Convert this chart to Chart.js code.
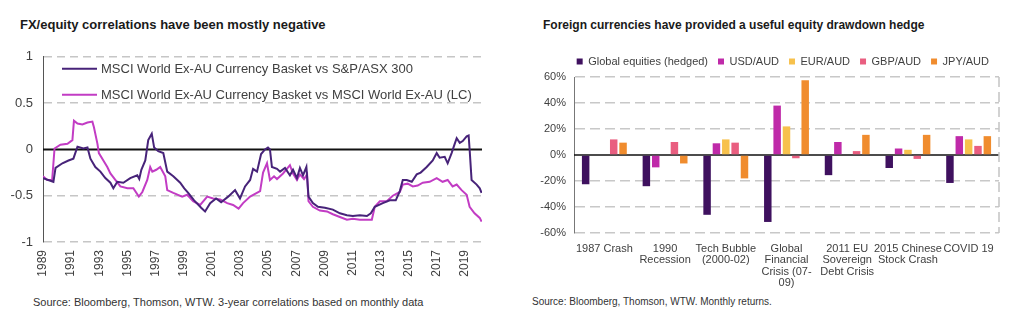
<!DOCTYPE html>
<html>
<head>
<meta charset="utf-8">
<script src="https://cdn.jsdelivr.net/npm/chart.js@4.4.1/dist/chart.umd.min.js"></script>
<style>
  body { margin: 0; background: #fff; width: 1024px; height: 331px; overflow: hidden; position: relative; font-family: 'Liberation Sans', Arial, sans-serif; }
  .title { position: absolute; font-weight: bold; color: #1a1a1a; white-space: nowrap; }
  .source { position: absolute; color: #333; white-space: nowrap; }
  .box { position: absolute; }
</style>
</head>
<body>

<div class="title" style="left:20px; top:17px; font-size:13px;">FX/equity correlations have been mostly negative</div>
<div class="title" style="left:543px; top:18px; font-size:12px;">Foreign currencies have provided a useful equity drawdown hedge</div>

<div class="box" style="left:0; top:39px; width:500px; height:251px;"><canvas id="corrChart"></canvas></div>
<div class="box" style="left:540px; top:41px; width:484px; height:249px;"><canvas id="hedgeChart"></canvas></div>

<div class="source" style="left:33px; top:296px; font-size:11px;">Source: Bloomberg, Thomson, WTW. 3-year correlations based on monthly data</div>
<div class="source" style="left:532px; top:296px; font-size:10px;">Source: Bloomberg, Thomson, WTW. Monthly returns.</div>

<script>
// left chart: 3-year correlations
var yearTicks = [1989, 1991, 1993, 1995, 1997, 1999, 2001, 2003, 2005, 2007, 2009, 2011, 2013, 2015, 2017, 2019];

var asxYears = [1989.0, 1989.74, 1989.89, 1990.38, 1990.81, 1991.16, 1991.45, 1991.87, 1992.16, 1992.37,
  1992.72, 1993.08, 1993.43, 1993.79, 1994.0, 1994.28, 1994.71, 1995.2, 1995.7, 1995.84,
  1995.99, 1996.27, 1996.48, 1996.73, 1996.9, 1997.19, 1997.55, 1997.83, 1998.26, 1998.75,
  1999.04, 1999.32, 1999.74, 2000.24, 2000.52, 2000.88, 2001.3, 2001.66, 2002.16, 2002.65,
  2003.0, 2003.36, 2003.72, 2003.93, 2004.21, 2004.5, 2004.78, 2004.99, 2005.13, 2005.27,
  2005.63, 2005.85, 2006.2, 2006.55, 2006.77, 2007.05, 2007.26, 2007.48, 2007.72, 2007.87,
  2008.18, 2008.54, 2009.03, 2009.6, 2010.1, 2010.6, 2011.02, 2011.52, 2012.02, 2012.3,
  2012.58, 2013.15, 2013.65, 2014.07, 2014.36, 2014.57, 2014.85, 2015.21, 2015.56, 2015.84,
  2016.27, 2016.7, 2016.98, 2017.19, 2017.55, 2017.76, 2018.04, 2018.26, 2018.4, 2018.62,
  2018.83, 2019.11, 2019.25, 2019.32, 2019.46, 2019.82, 2020.04, 2020.17];
var asxCorr = [-0.31, -0.35, -0.20, -0.15, -0.12, -0.10, 0.03, 0.01, 0.02, -0.10,
  -0.19, -0.24, -0.31, -0.36, -0.42, -0.35, -0.36, -0.31, -0.28, -0.32,
  -0.22, -0.12, 0.10, 0.17, 0.02, -0.02, -0.04, -0.24, -0.29, -0.36,
  -0.42, -0.47, -0.55, -0.63, -0.67, -0.58, -0.53, -0.57, -0.51, -0.44,
  -0.53, -0.40, -0.33, -0.21, -0.24, -0.05, 0.00, 0.02, 0.00, -0.19,
  -0.21, -0.24, -0.20, -0.28, -0.22, -0.31, -0.20, -0.28, -0.19, -0.51,
  -0.58, -0.62, -0.63, -0.65, -0.69, -0.71, -0.72, -0.71, -0.72, -0.69,
  -0.62, -0.58, -0.55, -0.55, -0.45, -0.33, -0.33, -0.35, -0.27, -0.25,
  -0.19, -0.12, -0.04, -0.09, -0.08, -0.15, -0.04, 0.06, 0.12, 0.07,
  0.09, 0.14, 0.15, 0.00, -0.33, -0.38, -0.42, -0.47];

var worldYears = [1989.0, 1989.3, 1989.65, 1989.82, 1990.24, 1990.74, 1991.09, 1991.2, 1991.45, 1991.8,
  1992.16, 1992.51, 1992.62, 1992.87, 1992.97, 1993.29, 1993.57, 1993.79, 1994.14, 1994.5,
  1995.0, 1995.42, 1995.81, 1996.06, 1996.41, 1996.62, 1996.77, 1997.05, 1997.33, 1997.69,
  1997.83, 1998.26, 1998.89, 1999.25, 1999.67, 2000.17, 2000.67, 2001.09, 2001.59, 2002.09,
  2002.51, 2002.9, 2003.22, 2003.72, 2004.07, 2004.43, 2004.64, 2004.92, 2005.13, 2005.42,
  2005.63, 2006.06, 2006.55, 2006.77, 2007.05, 2007.26, 2007.55, 2007.77, 2007.87, 2008.18,
  2008.68, 2009.18, 2009.6, 2010.1, 2010.6, 2011.02, 2011.52, 2012.02, 2012.37, 2012.58,
  2012.94, 2013.43, 2013.86, 2014.36, 2014.57, 2014.92, 2015.28, 2015.63, 2015.99, 2016.48,
  2016.98, 2017.4, 2017.76, 2018.11, 2018.4, 2018.75, 2019.11, 2019.32, 2019.67, 2020.04, 2020.17];
var worldCorr = [-0.29, -0.33, -0.33, 0.01, 0.05, 0.06, 0.10, 0.31, 0.28, 0.27,
  0.29, 0.30, 0.24, 0.06, -0.04, -0.12, -0.19, -0.26, -0.33, -0.40,
  -0.42, -0.42, -0.51, -0.46, -0.33, -0.19, -0.24, -0.22, -0.19, -0.29,
  -0.44, -0.47, -0.51, -0.49, -0.56, -0.60, -0.51, -0.53, -0.54, -0.58,
  -0.60, -0.64, -0.58, -0.51, -0.48, -0.45, -0.25, -0.15, -0.33, -0.29,
  -0.32, -0.26, -0.17, -0.26, -0.33, -0.27, -0.32, -0.27, -0.56, -0.62,
  -0.66, -0.67, -0.70, -0.73, -0.76, -0.75, -0.76, -0.76, -0.76, -0.62,
  -0.56, -0.56, -0.50, -0.46, -0.38, -0.37, -0.40, -0.39, -0.36, -0.35,
  -0.31, -0.35, -0.33, -0.40, -0.38, -0.44, -0.49, -0.62, -0.69, -0.74, -0.78];

// right chart: drawdown episodes (%)
var episodes = ['1987 Crash', ['1990', 'Recession'], ['Tech Bubble', '(2000-02)'],
  ['Global', 'Financial', 'Crisis (07-', '09)'], ['2011 EU', 'Sovereign', 'Debt Crisis'],
  ['2015 Chinese', 'Stock Crash'], 'COVID 19'];
var globalEq = [-22.5, -24, -46, -51.5, -15.5, -10, -21.5];
var usdAud = [0, -9.5, 9, 38, 10, 5, 14.5];
var eurAud = [0, 0, 12, 22, 0, 4, 12];
var gbpAud = [12, 10, 9.5, -2.5, 3, -3, 7];
var jpyAud = [9.5, -6.5, -18, 57.5, 15.5, 15.5, 14.5];

Chart.defaults.font.family = "'Liberation Sans', Arial, sans-serif";
Chart.defaults.color = '#404040';

function pairs(xs, ys) {
  return xs.map(function (x, i) { return {x: x, y: ys[i]}; });
}

// solid zero line, plus the dashed right edge of the bar chart
var zeroLine = {
  id: 'zeroLine',
  beforeDatasetsDraw: function (chart, args, opts) {
    var a = chart.chartArea, ctx = chart.ctx;
    var y = chart.scales.y.getPixelForValue(0);
    ctx.save();
    ctx.strokeStyle = '#111';
    ctx.lineWidth = opts.width || 2;
    ctx.beginPath();
    ctx.moveTo(a.left, y);
    ctx.lineTo(a.right, y);
    ctx.stroke();
    if (opts.rightEdge) {
      ctx.strokeStyle = '#c4c4c4';
      ctx.lineWidth = 1.5;
      ctx.setLineDash([10, 5]);
      ctx.beginPath();
      ctx.moveTo(a.right, a.top);
      ctx.lineTo(a.right, a.bottom);
      ctx.stroke();
    }
    ctx.restore();
  }
};

var innerLegend = {
  id: 'innerLegend',
  afterDatasetsDraw: function (chart) {
    var a = chart.chartArea, ctx = chart.ctx;
    ctx.save();
    ctx.font = "13px 'Liberation Sans', Arial, sans-serif";
    ctx.textBaseline = 'middle';
    chart.data.datasets.forEach(function (ds, i) {
      var y = a.top + 12 + i * 26;
      ctx.strokeStyle = ds.borderColor;
      ctx.lineWidth = 2;
      ctx.beginPath();
      ctx.moveTo(a.left + 19, y);
      ctx.lineTo(a.left + 54, y);
      ctx.stroke();
      ctx.fillStyle = '#404040';
      ctx.fillText(ds.label, a.left + 58, y + 1);
    });
    ctx.restore();
  }
};

new Chart('corrChart', {
  type: 'line',
  data: {
    datasets: [{
      label: 'MSCI World Ex-AU Currency Basket vs S&P/ASX 300',
      data: pairs(asxYears, asxCorr),
      borderColor: '#472379',
      borderWidth: 2,
      pointRadius: 0,
      fill: false
    }, {
      label: 'MSCI World Ex-AU Currency Basket vs MSCI World Ex-AU (LC)',
      data: pairs(worldYears, worldCorr),
      borderColor: '#c23cc4',
      borderWidth: 2,
      pointRadius: 0,
      fill: false
    }]
  },
  options: {
    responsive: true,
    maintainAspectRatio: false,
    animation: false,
    layout: {padding: {top: 5, right: 18}},
    plugins: {
      legend: {display: false},
      tooltip: {enabled: false},
      zeroLine: {width: 2}
    },
    scales: {
      x: {
        type: 'linear',
        min: 1989,
        max: 2020.2,
        afterBuildTicks: function (scale) {
          scale.ticks = yearTicks.map(function (v) { return {value: v}; });
        },
        afterFit: function (scale) { scale.height = 48; },
        grid: {display: false, drawTicks: false},
        border: {display: false},
        ticks: {
          minRotation: 90, maxRotation: 90, padding: 8,
          font: {size: 12},
          callback: function (v) { return String(v); }
        }
      },
      y: {
        min: -1,
        max: 1,
        afterFit: function (scale) { scale.width = 43; },
        ticks: {stepSize: 0.5, padding: 10, font: {size: 13}, callback: function (v) { return String(v); }},
        grid: {
          drawTicks: false,
          color: function (c) { return c.tick && c.tick.value === 0 ? 'rgba(0,0,0,0)' : '#c6c6c6'; },
          lineWidth: 1.5
        },
        border: {display: true, color: '#555', width: 1, dash: [8, 5]}
      }
    }
  },
  plugins: [zeroLine, innerLegend]
});

new Chart('hedgeChart', {
  type: 'bar',
  data: {
    labels: episodes,
    datasets: [
      {label: 'Global equities (hedged)', data: globalEq, backgroundColor: '#3f115f'},
      {label: 'USD/AUD', data: usdAud, backgroundColor: '#bf2aa9'},
      {label: 'EUR/AUD', data: eurAud, backgroundColor: '#f7c14c'},
      {label: 'GBP/AUD', data: gbpAud, backgroundColor: '#e95e80'},
      {label: 'JPY/AUD', data: jpyAud, backgroundColor: '#f08c2e'}
    ]
  },
  options: {
    responsive: true,
    maintainAspectRatio: false,
    animation: false,
    categoryPercentage: 0.77,
    barPercentage: 0.8,
    layout: {padding: {top: 5, right: 25}},
    plugins: {
      tooltip: {enabled: false},
      zeroLine: {width: 1.5, rightEdge: true},
      legend: {
        align: 'end',
        labels: {boxWidth: 6, boxHeight: 6, padding: 10, font: {size: 11}, color: '#404040'}
      }
    },
    scales: {
      x: {
        afterFit: function (scale) { scale.height = 57; },
        grid: {display: false, drawTicks: false},
        border: {display: false},
        ticks: {maxRotation: 0, autoSkip: false, padding: 10, font: {size: 11, lineHeight: 1.05}}
      },
      y: {
        min: -60,
        max: 60,
        afterFit: function (scale) { scale.width = 34; },
        ticks: {stepSize: 20, padding: 8, font: {size: 11}, callback: function (v) { return v + '%'; }},
        grid: {drawTicks: false, color: function (c) { return c.tick && c.tick.value === 0 ? 'rgba(0,0,0,0)' : '#c8c8c8'; }, lineWidth: 1.5},
        border: {display: true, color: '#777', width: 1, dash: [10, 5]}
      }
    }
  },
  plugins: [zeroLine]
});
</script>
</body>
</html>
